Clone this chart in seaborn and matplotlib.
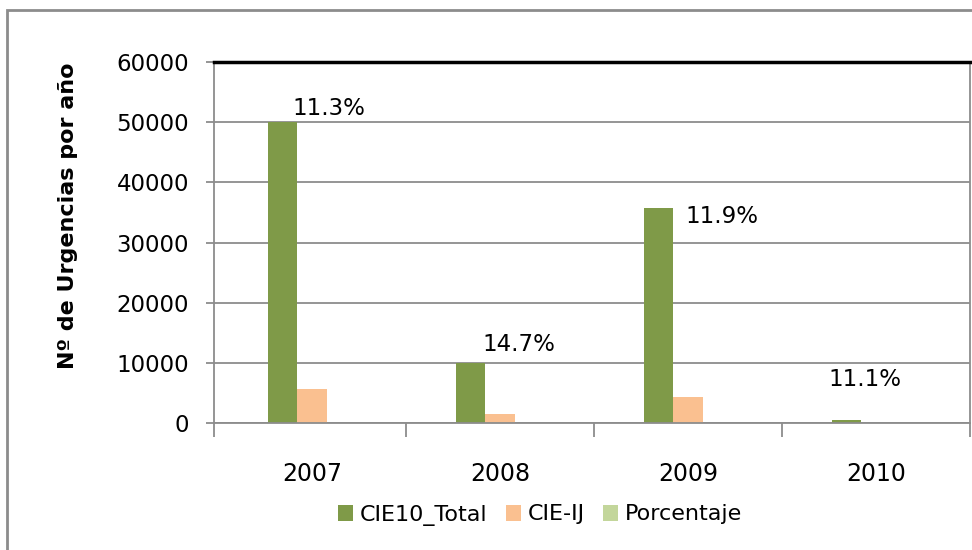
import matplotlib.pyplot as plt
import pandas as pd
import seaborn as sns
from matplotlib.patches import Rectangle

years = ["2007", "2008", "2009", "2010"]
cie10_total = [50000, 9950, 35700, 450]
cie_ij = [5650, 1460, 4250, 50]
porcentaje = [11.3, 14.7, 11.9, 11.1]
series_names = ["CIE10_Total", "CIE-IJ", "Porcentaje"]
colors = ["#7F9A48", "#FAC090", "#C3D69B"]

# label placement (offset from category centre, height in data units)
label_dx = [0.09, 0.10, 0.18, -0.06]
label_y = [52300, 13000, 34400, 7150]

df = pd.DataFrame(
    {
        "Year": years * 3,
        "Serie": [s for s in series_names for _ in years],
        "Value": cie10_total + cie_ij + porcentaje,
    }
)

sns.set_style("white")
plt.rcParams["font.family"] = ["DejaVu Sans"]
plt.rcParams["text.color"] = "black"
plt.rcParams["axes.labelcolor"] = "black"
plt.rcParams["xtick.labelcolor"] = "black"
plt.rcParams["ytick.labelcolor"] = "black"

fig = plt.figure(figsize=(9.72, 5.5), dpi=100)
ax = fig.add_axes([214 / 972, 1 - 423 / 550, (970 - 214) / 972, (423 - 62) / 550])

sns.barplot(
    data=df,
    x="Year",
    y="Value",
    hue="Serie",
    hue_order=series_names,
    palette=colors,
    saturation=1,
    width=0.47,
    gap=0,
    edgecolor="none",
    linewidth=0,
    ax=ax,
)

ax.set_ylim(0, 60000)
ax.set_xlim(-0.52, 3.5)
ax.set_yticks(range(0, 60001, 10000))
ax.yaxis.grid(True, color="#8c8c8c", linewidth=1.3)
ax.set_axisbelow(True)

for i, p in enumerate(porcentaje):
    ax.text(i + label_dx[i], label_y[i], f"{p}%", ha="center", va="center",
            fontsize=16.5, color="black")

for side in ["left", "bottom", "right"]:
    ax.spines[side].set_visible(True)
    ax.spines[side].set_color("#8c8c8c")
    ax.spines[side].set_linewidth(1.3)
ax.spines["top"].set_visible(True)
ax.spines["top"].set_color("black")
ax.spines["top"].set_linewidth(2.5)

ax.set_xticks([0, 1, 2, 3])
ax.set_xticklabels(years, fontsize=17)
ax.set_xticks([-0.52, 0.5, 1.5, 2.5, 3.5], minor=True)
ax.tick_params(axis="x", which="major", length=0, pad=28)
ax.tick_params(axis="x", which="minor", length=10, width=1.3, color="#8c8c8c", direction="out")
ax.tick_params(axis="y", length=6, width=1.3, color="#8c8c8c", direction="out",
               labelsize=16.5, pad=12)
ax.tick_params(left=True, bottom=True, which="both")
ax.set_xlabel("")
ax.set_ylabel("Nº de Urgencias por año", fontsize=16, fontweight="bold")
ax.yaxis.set_label_coords(-0.18, 0.573)

handles, labels = ax.get_legend_handles_labels()
ax.get_legend().remove()
fig.legend(
    handles,
    labels,
    loc="center",
    bbox_to_anchor=(540 / 972, 1 - 515 / 550),
    ncol=3,
    frameon=False,
    fontsize=16,
    handlelength=0.7,
    handleheight=0.7,
    handletextpad=0.3,
    columnspacing=0.8,
)

fig.patches.append(
    Rectangle((7 / 972, -0.1), 1.2, 1.1 - 10 / 550, transform=fig.transFigure,
              fill=False, edgecolor="#8c8c8c", linewidth=2, zorder=-1)
)

fig.savefig("out.png", dpi=100)
